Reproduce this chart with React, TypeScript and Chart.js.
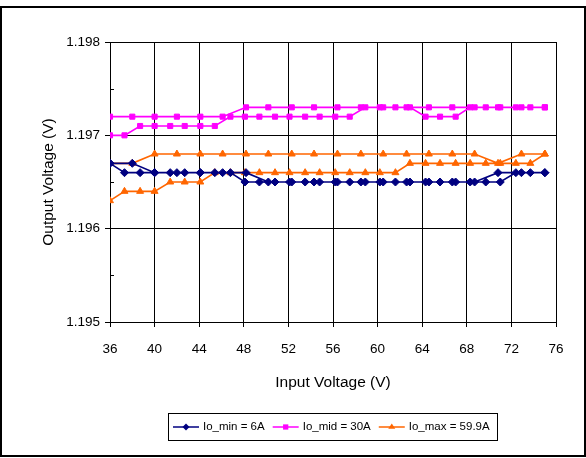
import React, { useEffect, useRef } from "react";
import { Chart, registerables } from "chart.js";

Chart.register(...registerables);

// Input voltage sweep: up (36 -> 75) then back down (75 -> 36)
const sweepUpVin = [36, 37.3, 38.7, 40, 41.4, 42.7, 44.1, 45.4, 46.8, 48.1, 49.4, 50.8, 52.1, 53.5, 54.8, 56.2, 57.5, 58.9, 60.2, 61.6, 62.9, 64.3, 65.6, 67, 68.3, 69.7, 71, 72.4, 73.7, 75];
const sweepDownVin = [75, 72.9, 70.8, 68.7, 66.7, 64.6, 62.6, 60.5, 58.5, 56.4, 54.3, 52.3, 50.2, 48.2, 46.1, 44.1, 42, 40, 38, 36];

const ioMinUp = [1.1967, 1.1966, 1.1966, 1.1966, 1.1966, 1.1966, 1.1966, 1.1966, 1.1966, 1.1965, 1.1965, 1.1965, 1.1965, 1.1965, 1.1965, 1.1965, 1.1965, 1.1965, 1.1965, 1.1965, 1.1965, 1.1965, 1.1965, 1.1965, 1.1965, 1.1965, 1.1965, 1.1966, 1.1966, 1.1966];
const ioMinDown = [1.1966, 1.1966, 1.1966, 1.1965, 1.1965, 1.1965, 1.1965, 1.1965, 1.1965, 1.1965, 1.1965, 1.1965, 1.1965, 1.1966, 1.1966, 1.1966, 1.1966, 1.1966, 1.1967, 1.1967];

const ioMidUp = [1.197, 1.197, 1.1971, 1.1971, 1.1971, 1.1971, 1.1971, 1.1971, 1.1972, 1.1972, 1.1972, 1.1972, 1.1972, 1.1972, 1.1972, 1.1972, 1.1972, 1.1973, 1.1973, 1.1973, 1.1973, 1.1972, 1.1972, 1.1972, 1.1973, 1.1973, 1.1973, 1.1973, 1.1973, 1.1973];
const ioMidDown = [1.1973, 1.1973, 1.1973, 1.1973, 1.1973, 1.1973, 1.1973, 1.1973, 1.1973, 1.1973, 1.1973, 1.1973, 1.1973, 1.1973, 1.1972, 1.1972, 1.1972, 1.1972, 1.1972, 1.1972];

const ioMaxUp = [1.1963, 1.1964, 1.1964, 1.1964, 1.1965, 1.1965, 1.1965, 1.1966, 1.1966, 1.1966, 1.1966, 1.1966, 1.1966, 1.1966, 1.1966, 1.1966, 1.1966, 1.1966, 1.1966, 1.1966, 1.1967, 1.1967, 1.1967, 1.1967, 1.1967, 1.1967, 1.1967, 1.1967, 1.1967, 1.1968];
const ioMaxDown = [1.1968, 1.1968, 1.1967, 1.1968, 1.1968, 1.1968, 1.1968, 1.1968, 1.1968, 1.1968, 1.1968, 1.1968, 1.1968, 1.1968, 1.1968, 1.1968, 1.1968, 1.1968, 1.1967, 1.1967];

const seriesLabels = ["Io_min = 6A", "Io_mid = 30A", "Io_max = 59.9A"];
const seriesColors = ["#000080", "#FF00FF", "#FF6600"];
const seriesMarkers = ["rectRot", "rect", "triangle"];

const xMin = 36, xMax = 76, xStep = 4;
const yMin = 1.195, yMax = 1.198, yStep = 0.001;

const FONT = "'Liberation Sans', Arial, sans-serif";

function sweep(up: number[], down: number[]) {
  return [
    ...sweepUpVin.map((x, i) => ({ x, y: up[i] })),
    ...sweepDownVin.map((x, i) => ({ x, y: down[i] })),
  ];
}

function drawMarker(ctx: CanvasRenderingContext2D, style: string, x: number, y: number, r: number) {
  ctx.beginPath();
  if (style === "rectRot") {
    ctx.moveTo(x, y - r); ctx.lineTo(x + r, y); ctx.lineTo(x, y + r); ctx.lineTo(x - r, y);
  } else if (style === "rect") {
    const s = r * 0.75;
    ctx.rect(x - s, y - s, 2 * s, 2 * s);
  } else {
    const h = r * 1.5;
    const w = r * Math.sqrt(3) / 2 * 1.15;
    ctx.moveTo(x, y - h * 2 / 3); ctx.lineTo(x + w, y + h / 3); ctx.lineTo(x - w, y + h / 3);
  }
  ctx.closePath();
  ctx.fill();
}

const decorPlugin = {
  id: "decor",
  beforeDraw(chart: any) {
    const ctx = chart.ctx;
    ctx.save();
    ctx.strokeStyle = "#000";
    ctx.lineWidth = 2;
    ctx.strokeRect(1, 7, chart.width - 2, chart.height - 9);
    ctx.restore();
  },
  afterDraw(chart: any) {
    const ctx: CanvasRenderingContext2D = chart.ctx;
    const ys = chart.scales.y;
    const area = chart.chartArea;
    ctx.save();
    // minor ticks (inside) on y axis
    ctx.strokeStyle = "#000";
    ctx.lineWidth = 1;
    const tv = ys.ticks.map((t: any) => t.value);
    for (let i = 0; i < tv.length - 1; i++) {
      const p = Math.round(ys.getPixelForValue((tv[i] + tv[i + 1]) / 2)) + 0.5;
      ctx.beginPath();
      ctx.moveTo(area.left, p);
      ctx.lineTo(area.left + 4, p);
      ctx.stroke();
    }
    // legend box
    ctx.font = `11.5px ${FONT}`;
    const lineLen = 26, gapText = 4, gapItem = 8, padL = 4.5, padR = 8;
    const widths = seriesLabels.map((l) => ctx.measureText(l).width);
    const total = padL + padR + widths.reduce((a, w) => a + lineLen + gapText + w, 0) + gapItem * (seriesLabels.length - 1);
    const cx = (area.left + area.right) / 2;
    const boxL = Math.round(cx - total / 2) + 0.5;
    const boxT = 413.5, boxH = 27;
    ctx.strokeStyle = "#000";
    ctx.lineWidth = 1;
    ctx.strokeRect(boxL, boxT, Math.round(total), boxH);
    const cy = boxT + boxH / 2;
    let x = boxL + padL;
    chart.data.datasets.forEach((ds: any, i: number) => {
      ctx.strokeStyle = seriesColors[i];
      ctx.fillStyle = seriesColors[i];
      ctx.lineWidth = 1.5;
      ctx.beginPath();
      ctx.moveTo(x, cy);
      ctx.lineTo(x + lineLen, cy);
      ctx.stroke();
      drawMarker(ctx, seriesMarkers[i], x + lineLen / 2, cy, 3.5);
      x += lineLen + gapText;
      ctx.fillStyle = "#000";
      ctx.textBaseline = "middle";
      ctx.textAlign = "left";
      ctx.fillText(ds.label, x, cy);
      x += widths[i] + gapItem;
    });
    ctx.restore();
  },
};

export default function App() {
  const ref = useRef<HTMLCanvasElement | null>(null);
  useEffect(() => {
    if (!ref.current) return;
    const datasets = [
      { label: seriesLabels[0], data: sweep(ioMinUp, ioMinDown) },
      { label: seriesLabels[1], data: sweep(ioMidUp, ioMidDown) },
      { label: seriesLabels[2], data: sweep(ioMaxUp, ioMaxDown) },
    ].map((d, i) => ({
      ...d,
      borderColor: seriesColors[i],
      backgroundColor: seriesColors[i],
      pointBackgroundColor: seriesColors[i],
      pointBorderColor: seriesColors[i],
      pointStyle: seriesMarkers[i],
      pointRadius: i === 0 ? 4 : i === 1 ? 3.6 : 4,
      pointBorderWidth: 1,
      borderWidth: 1.6,
      tension: 0,
      fill: false,
    }));
    const chart = new Chart(ref.current, {
      type: "line",
      data: { datasets } as any,
      plugins: [decorPlugin as any],
      options: {
        responsive: false,
        animation: false,
        devicePixelRatio: 1,
        layout: { padding: { left: 0, right: 30, top: 42, bottom: 63 } },
        plugins: { legend: { display: false }, tooltip: { enabled: false } },
        scales: {
          x: {
            type: "linear",
            min: xMin,
            max: xMax,
            afterFit: (s: any) => { s.height = 73; },
            ticks: { stepSize: xStep, color: "#000", font: { family: FONT, size: 13.5 }, padding: 14, maxRotation: 0 },
            grid: { color: "#000", lineWidth: 1, tickLength: 5 },
            border: { color: "#000", width: 1 },
            title: { display: true, text: "Input Voltage (V)", color: "#000", font: { family: FONT, size: 15.5 }, padding: { top: 4, bottom: 3 } },
          },
          y: {
            type: "linear",
            min: yMin,
            max: yMax,
            afterFit: (s: any) => { s.width = 110; },
            ticks: {
              stepSize: yStep,
              color: "#000",
              font: { family: FONT, size: 13.5 },
              padding: 5,
              callback: (v: any) => Number(v).toFixed(3),
            },
            grid: { color: "#000", lineWidth: 1, tickLength: 5 },
            border: { color: "#000", width: 1 },
            title: { display: true, text: "Output Voltage (V)", color: "#000", font: { family: FONT, size: 15.5 }, padding: { top: 39, bottom: 4 } },
          },
        },
      } as any,
    });
    return () => chart.destroy();
  }, []);
  return (
    <div style={{ position: "fixed", left: 0, top: 0, width: 586, height: 458, background: "#fff" }}>
      <canvas ref={ref} width={586} height={458} style={{ display: "block", width: 586, height: 458 }} />
    </div>
  );
}
